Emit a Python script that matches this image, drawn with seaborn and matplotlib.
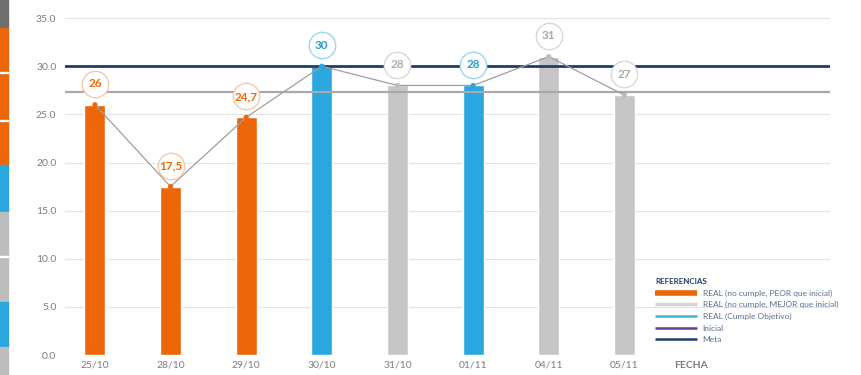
import matplotlib
matplotlib.use("Agg")
import matplotlib.pyplot as plt
import matplotlib.transforms as mtransforms
from matplotlib.lines import Line2D
from matplotlib.patches import Rectangle
import seaborn as sns
import pandas as pd

# Data
fechas = ["25/10", "28/10", "29/10", "30/10", "31/10", "01/11", "04/11", "05/11"]
valores = [26, 17.5, 24.7, 30, 28, 28, 31, 27]
etiquetas = ["26", "17,5", "24,7", "30", "28", "28", "31", "27"]
estado = ["peor", "peor", "peor", "cumple", "mejor", "cumple", "mejor", "mejor"]
meta = 30.0
inicial = 27.3
yticks = [0, 5, 10, 15, 20, 25, 30, 35]

NARANJA = "#EC6608"
AZUL = "#2AA7DF"
GRIS = "#C6C6C6"
NAVY = "#1D3E6C"
GRIS_LINEA = "#A9A9A9"
colores = {"peor": NARANJA, "mejor": GRIS, "cumple": AZUL}
texto_col = {"peor": NARANJA, "mejor": "#ABABAB", "cumple": "#2A9AD0"}
borde_col = {"peor": "#F5C9A8", "mejor": "#D8D8D8", "cumple": "#9FD4EE"}

df = pd.DataFrame({"fecha": fechas, "valor": valores, "estado": estado})

sns.set_theme(style="white")
plt.rcParams["font.family"] = ["Lato", "DejaVu Sans"]

fig = plt.figure(figsize=(8.62, 3.75), dpi=100)
ax = fig.add_axes([0.075, 0.053, 0.888, 0.904])

sns.barplot(data=df, x="fecha", y="valor", hue="fecha",
            palette=[colores[e] for e in estado], width=0.28,
            legend=False, ax=ax, zorder=2, saturation=1)

# reference lines
ax.axhline(inicial, color=GRIS_LINEA, lw=1.6, zorder=3)
ax.axhline(meta, color=NAVY, lw=2.0, zorder=3)

# connecting line and points
xs = list(range(len(fechas)))
sns.lineplot(x=xs, y=valores, color="#9E9E9E", lw=0.9, ax=ax, zorder=4)
ax.scatter(xs, valores, s=14, c=[colores[e] if e != "mejor" else "#BDBDBD" for e in estado],
           zorder=5, linewidths=0)

# value badges: fixed-size circles above each point
lift = mtransforms.ScaledTranslation(0, 15 / 72, fig.dpi_scale_trans)
for x, v, t, e in zip(xs, valores, etiquetas, estado):
    ax.plot([x], [v], marker="o", markersize=19, markerfacecolor="white",
            markeredgecolor=borde_col[e], markeredgewidth=1.0, zorder=6,
            transform=ax.transData + lift, linestyle="none")
    ax.annotate(t, (x, v), xytext=(0, 15), textcoords="offset points",
                ha="center", va="center", fontsize=8.5, fontweight="bold",
                color=texto_col[e], zorder=7)

ax.set_xlim(-0.4, 9.72)
ax.set_ylim(0, 35.2)
ax.set_yticks(yticks)
ax.set_yticklabels([f"{v:.1f}" for v in yticks])
ax.yaxis.grid(True, color="#E3E3E3", lw=0.8)
ax.set_axisbelow(True)
for s in ax.spines.values():
    s.set_visible(False)
ax.tick_params(axis="both", length=0, labelsize=7.5, colors="#7D7D7D", pad=4)
ax.tick_params(axis="y", pad=6)
ax.set_xlabel("")
ax.set_ylabel("")
ax.annotate("FECHA", (7.88, 0), xycoords=ax.get_xaxis_transform(),
            xytext=(0, -4), textcoords="offset points",
            ha="center", va="top", fontsize=7.5, color="#7D7D7D", fontweight="bold")

# legend
handles = [
    Line2D([], [], color=NARANJA, lw=4, solid_capstyle="butt"),
    Line2D([], [], color="#D4D4D4", lw=2.5, solid_capstyle="butt"),
    Line2D([], [], color="#3DB5D8", lw=1.8, solid_capstyle="butt"),
    Line2D([], [], color="#6A3D9A", lw=1.8, solid_capstyle="butt"),
    Line2D([], [], color=NAVY, lw=1.8, solid_capstyle="butt"),
]
labels = ["REAL (no cumple, PEOR que inicial)",
          "REAL (no cumple, MEJOR que inicial)",
          "REAL (Cumple Objetivo)",
          "Inicial",
          "Meta"]
leg = ax.legend(handles, labels, title="REFERENCIAS", loc="lower left",
                bbox_to_anchor=(0.765, 0.02), frameon=False, fontsize=6.0,
                title_fontsize=5.8, handlelength=5.0, handletextpad=0.7,
                labelspacing=0.55, alignment="left", borderaxespad=0.2)
leg.get_title().set_color(NAVY)
leg.get_title().set_fontweight("bold")
for txt in leg.get_texts():
    txt.set_color("#5A6E8C")
leg.set_zorder(8)

# coloured side strip
strip = [(0, 28, "#6E6E6E"), (28, 165, NARANJA), (165, 212, AZUL),
         (212, 302, "#BDBDBD"), (302, 347, AZUL), (347, 375, "#BDBDBD")]
H = 375.0
for y0, y1, c in strip:
    fig.patches.append(Rectangle((0, 1 - y1 / H), 8 / 862, (y1 - y0) / H,
                                 transform=fig.transFigure, color=c, zorder=0))
for yd in (73, 121, 257):
    fig.patches.append(Rectangle((0, 1 - yd / H), 8 / 862, 1 / H,
                                 transform=fig.transFigure, color="white", zorder=1))

fig.savefig("out.png", dpi=100)
